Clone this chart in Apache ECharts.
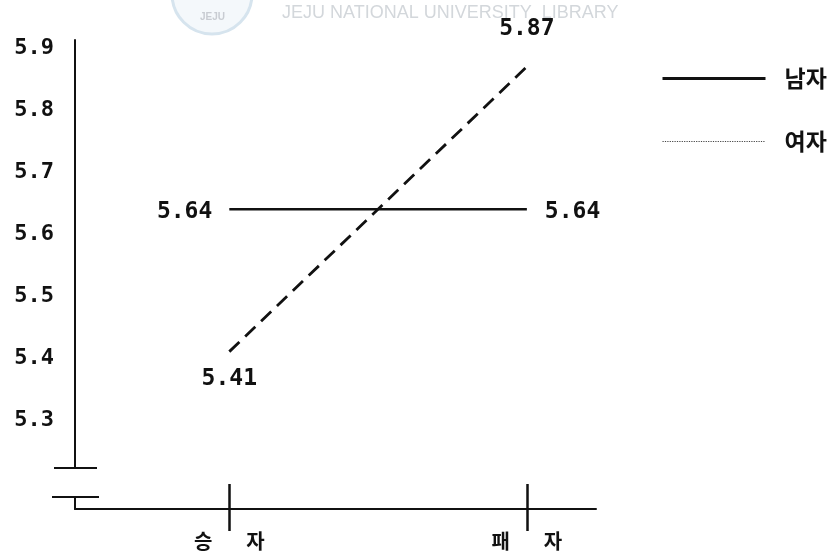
<!DOCTYPE html>
<html>
<head>
<meta charset="utf-8">
<script src="https://cdn.jsdelivr.net/npm/echarts@6/dist/echarts.min.js"></script>
<style>
  html, body { margin: 0; padding: 0; background: #fff; }
  #main { width: 834px; height: 553px; }
</style>
</head>
<body>
<div id="main"></div>
<script>
// data
var categories = ["승 자", "패 자"];
var seriesNames = ["남자", "여자"];
var maleValues = [5.64, 5.64];
var femaleValues = [5.41, 5.87];
var yTickValues = [5.3, 5.4, 5.5, 5.6, 5.7, 5.8, 5.9];

var yMin = 5.156, yMax = 5.913;
var xMin = -0.5185, xMax = 1.2323;
var numFont = "DejaVu Sans Mono";
var korFont = "Noto Sans CJK KR";
var clear = "rgba(0,0,0,0)";
var catIdx = categories.map(function (c, i) { return i; });

function pts(values, labelPos, dist) {
  return values.map(function (v, i) {
    return { value: [i, v], label: { position: labelPos[i], distance: dist[i] } };
  });
}

var chart = echarts.init(document.getElementById("main"));
chart.setOption({
  animation: false,
  backgroundColor: "#fff",
  grid: { left: 75, right: 238, top: 40, bottom: 44, containLabel: false, outerBoundsMode: "none" },
  legend: {
    data: [
      { name: seriesNames[0], itemStyle: { color: clear }, lineStyle: { type: "solid", width: 3, color: "#111" } },
      { name: seriesNames[1], itemStyle: { color: clear }, lineStyle: { type: "dotted", width: 1.2, color: "#444" } }
    ],
    orient: "vertical",
    left: 656,
    top: 62,
    itemWidth: 103,
    itemHeight: 20,
    itemGap: 40,
    textStyle: { fontFamily: korFont, fontWeight: "bold", fontSize: 23, color: "#111", padding: [0, 0, 0, 14] }
  },
  xAxis: [
    {
      type: "value", min: xMin, max: xMax, position: "bottom",
      splitLine: { show: false },
      axisLine: { onZero: false, lineStyle: { color: "#111", width: 2 } },
      axisTick: { customValues: catIdx, length: 22, lineStyle: { color: "#111", width: 2.5 } },
      axisLabel: {
        customValues: catIdx,
        margin: 22,
        formatter: function (v) {
          var p = categories[Math.round(v)].split(" ");
          return "{l|" + p[0] + "}{r|" + p[1] + "}";
        },
        rich: {
          l: { fontFamily: korFont, fontWeight: "bold", fontSize: 20, color: "#111", padding: [0, 15, 0, 0] },
          r: { fontFamily: korFont, fontWeight: "bold", fontSize: 20, color: "#111", padding: [0, 0, 0, 19] }
        }
      }
    },
    {
      type: "value", min: xMin, max: xMax, position: "bottom", offset: 0,
      splitLine: { show: false },
      axisLine: { show: false, onZero: false },
      axisTick: { inside: true, customValues: catIdx, length: 25, lineStyle: { color: "#111", width: 2.5 } },
      axisLabel: { show: false }
    }
  ],
  yAxis: {
    type: "value", min: yMin, max: yMax,
    splitLine: { show: false },
    axisTick: { show: false },
    axisLine: { show: true, onZero: false, lineStyle: { color: "#111", width: 2 } },
    axisLabel: {
      customValues: yTickValues,
      margin: 21,
      formatter: function (v) { return v.toFixed(1); },
      fontFamily: numFont, fontWeight: "bold", fontSize: 22, color: "#111"
    }
  },
  series: [
    {
      name: seriesNames[0], type: "line", symbol: "circle", symbolSize: 2,
      data: pts(maleValues, ["left", "right"], [16, 17]),
      lineStyle: { color: "#111", width: 2.5, type: "solid" },
      itemStyle: { color: clear },
      label: {
        show: true, offset: [0, 3],
        formatter: function (p) { return p.value[1].toFixed(2); },
        fontFamily: numFont, fontWeight: "bold", fontSize: 23, color: "#111"
      }
    },
    {
      name: seriesNames[1], type: "line", symbol: "circle", symbolSize: 2,
      data: pts(femaleValues, ["bottom", "top"], [15, 25]),
      lineStyle: { color: "#111", width: 2.8, type: [14, 8] },
      itemStyle: { color: clear },
      label: {
        show: true,
        formatter: function (p) { return p.value[1].toFixed(2); },
        fontFamily: numFont, fontWeight: "bold", fontSize: 23, color: "#111"
      }
    }
  ]
});

// axis break marks and the faint library watermark
var x0 = chart.convertToPixel({ xAxisIndex: 0 }, xMin);
var yb = chart.convertToPixel({ yAxisIndex: 0 }, yMin);
chart.setOption({
  graphic: [
    { type: "circle", shape: { cx: 212, cy: -6, r: 40 }, style: { fill: "#f4f8fb", stroke: "#d6e4ee", lineWidth: 3 }, z: 0 },
    { type: "text", x: 200, y: 12, style: { text: "JEJU", fill: "#c8ccd2", font: "bold 10px Liberation Sans" }, z: 1 },
    { type: "text", x: 282, y: 4, style: { text: "JEJU NATIONAL UNIVERSITY  LIBRARY", fill: "#d3d7db", font: "18px Liberation Sans" }, z: 1 },
    { type: "rect", shape: { x: x0 - 4, y: yb - 40, width: 8, height: 27 }, style: { fill: "#fff" }, z: 100 },
    { type: "line", shape: { x1: x0 - 21, y1: yb - 41, x2: x0 + 22, y2: yb - 41 }, style: { stroke: "#111", lineWidth: 2 }, z: 101 },
    { type: "line", shape: { x1: x0 - 23, y1: yb - 12, x2: x0 + 24, y2: yb - 12 }, style: { stroke: "#111", lineWidth: 2 }, z: 101 }
  ]
});
</script>
</body>
</html>
